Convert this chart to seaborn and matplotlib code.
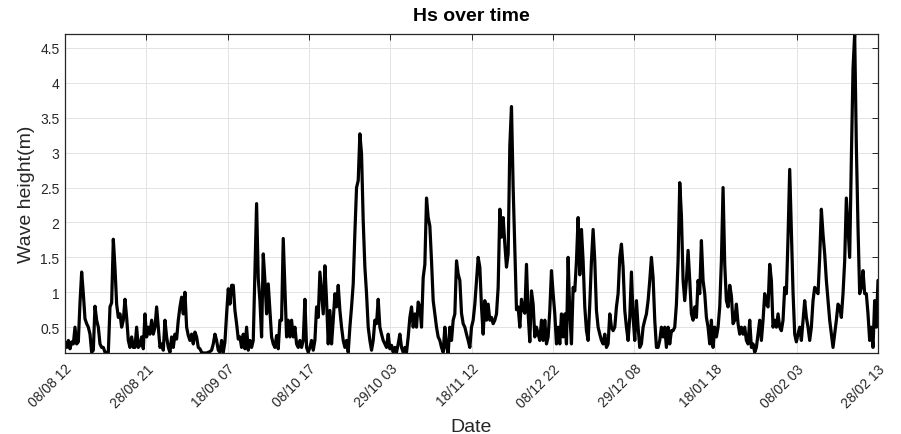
import numpy as np
import pandas as pd
import matplotlib
matplotlib.use("Agg")
import matplotlib.pyplot as plt
import matplotlib.dates as mdates
import seaborn as sns

# ---- data ----
start_time = "2021-08-08 12:00"
end_time = "2022-02-28 13:00"

hs_part1 = [0.29, 0.21, 0.31, 0.19, 0.29, 0.26, 0.50, 0.26, 0.29, 0.85, 1.29, 0.98,
            0.62, 0.55, 0.50, 0.40, 0.14, 0.17, 0.80, 0.60, 0.50, 0.26, 0.21, 0.21,
            0.14, 0.14, 0.14, 0.79, 0.85, 1.76, 1.35, 0.83, 0.64, 0.69, 0.50, 0.60,
            0.90, 0.64, 0.31, 0.21, 0.36, 0.21, 0.21, 0.50, 0.21, 0.24, 0.36, 0.19]
hs_part2 = [0.69, 0.36, 0.50, 0.40, 0.60, 0.40, 0.50, 0.79, 0.50, 0.21, 0.26, 0.17,
            0.60, 0.36, 0.21, 0.14, 0.36, 0.21, 0.40, 0.33, 0.60, 0.79, 0.93, 0.69,
            1.00, 0.50, 0.38, 0.31, 0.40, 0.26, 0.43, 0.36, 0.21, 0.19, 0.14, 0.13,
            0.13, 0.13, 0.14, 0.15, 0.17, 0.26, 0.40, 0.31, 0.17, 0.14, 0.31, 0.14,
            0.29, 0.69, 1.05, 0.83, 1.10, 1.10, 0.74, 0.55, 0.33]
hs_part3 = [0.36, 0.21, 0.40, 0.19, 0.50, 0.17, 0.31, 0.21, 0.31, 1.26, 2.27, 1.20,
            0.88, 0.36, 1.55, 1.17, 0.69, 1.12, 0.74, 0.36, 0.26, 0.21, 0.38, 0.19,
            0.60, 0.60, 1.77, 1.07, 0.36, 0.60, 0.36, 0.60, 0.36, 0.50, 0.26, 0.21,
            0.31, 0.21, 0.31, 0.90, 0.21, 0.14, 0.21, 0.31, 0.17, 0.31, 0.79, 0.64,
            1.29, 0.98, 0.69, 1.38, 0.88, 0.26, 0.74, 0.26, 0.60]
hs_part4 = [0.98, 0.79, 1.10, 0.74, 0.50, 0.31, 0.21, 0.31, 0.14, 0.50, 0.79, 1.12,
            1.85, 2.50, 2.60, 3.27, 2.98, 2.02, 1.36, 0.98, 0.50, 0.31, 0.17, 0.31,
            0.60, 0.55, 0.90, 0.50, 0.40, 0.31, 0.26, 0.21, 0.40, 0.19, 0.24, 0.14,
            0.21, 0.14, 0.26, 0.40, 0.21, 0.14, 0.21, 0.14, 0.36, 0.64, 0.79, 0.50,
            0.69, 0.50, 0.86, 0.79, 0.50, 1.21, 1.40, 2.35, 2.07]
hs_part5 = [1.95, 1.45, 0.88, 0.69, 0.50, 0.36, 0.31, 0.21, 0.14, 0.50, 0.21, 0.13,
            0.50, 0.31, 0.60, 0.69, 1.45, 1.26, 1.17, 0.70, 0.55, 0.50, 0.40, 0.31,
            0.21, 0.50, 0.60, 0.83, 1.17, 1.50, 1.36, 0.79, 0.40, 0.88, 0.60, 0.83,
            0.60, 0.64, 0.55, 0.60, 0.69, 1.07, 2.19, 1.79, 2.07, 1.69, 1.36, 1.55,
            3.10, 3.66, 2.50, 1.60, 0.75, 0.79, 0.50, 0.90, 0.75]
hs_part6 = [0.70, 1.40, 0.69, 0.29, 1.02, 0.83, 0.36, 0.50, 0.40, 0.31, 0.60, 0.31,
            0.60, 0.26, 0.36, 0.74, 1.31, 0.98, 0.69, 0.26, 0.50, 0.26, 0.69, 0.36,
            0.69, 0.26, 1.50, 0.69, 0.26, 1.07, 1.02, 1.45, 2.07, 1.25, 1.90, 1.45,
            0.79, 0.45, 0.31, 0.83, 1.45, 1.90, 1.45, 0.74, 0.50, 0.40, 0.31, 0.26,
            0.40, 0.21, 0.26, 0.69, 0.50, 0.45, 0.50, 0.79, 0.98]
hs_part7 = [1.50, 1.69, 1.36, 0.74, 0.50, 0.31, 0.64, 1.29, 0.64, 0.31, 0.88, 0.50,
            0.21, 0.26, 0.50, 0.60, 0.69, 0.88, 1.17, 1.50, 1.21, 0.60, 0.21, 0.21,
            0.31, 0.50, 0.36, 0.50, 0.21, 0.50, 0.26, 0.45, 0.45, 0.50, 0.83, 1.45,
            2.57, 2.10, 1.17, 0.88, 1.17, 1.60, 1.17, 0.69, 0.60, 0.79, 0.64, 1.17,
            0.98, 1.74, 1.17, 0.98, 0.64, 0.50, 0.26, 0.60, 0.21]
hs_part8 = [0.50, 0.36, 0.50, 0.79, 1.45, 2.50, 1.40, 0.88, 0.79, 1.10, 0.95, 0.55,
            0.60, 0.83, 0.55, 0.40, 0.50, 0.40, 0.50, 0.31, 0.26, 0.60, 0.21, 0.26,
            0.14, 0.21, 0.40, 0.60, 0.31, 0.60, 0.98, 0.83, 0.79, 1.40, 1.17, 0.50,
            0.60, 0.50, 0.69, 0.50, 0.45, 0.60, 1.07, 0.98, 1.79, 2.76, 1.90, 1.00,
            0.40, 0.29, 0.40]
hs_part9 = [0.50, 0.31, 0.60, 0.88, 0.64, 0.50, 0.31, 0.50, 0.88, 1.07, 1.02, 0.98,
            1.50, 2.19, 1.83, 1.55, 1.17, 0.88, 0.60, 0.40, 0.21, 0.40, 0.60, 0.83,
            0.79, 0.64, 0.98, 1.45, 2.35, 1.93, 1.50, 2.90, 4.20, 4.70, 3.10, 1.93,
            0.98, 1.07, 1.31, 0.98, 0.98, 0.69, 0.31, 0.50, 0.21, 0.88, 0.50, 1.17]

hs_values = (hs_part1 + hs_part2 + hs_part3 + hs_part4 + hs_part5 +
             hs_part6 + hs_part7 + hs_part8 + hs_part9)

tick_labels = ["08/08 12", "28/08 21", "18/09 07", "08/10 17", "29/10 03",
               "18/11 12", "08/12 22", "29/12 08", "18/01 18", "08/02 03", "28/02 13"]
y_ticks = [0.5, 1, 1.5, 2, 2.5, 3, 3.5, 4, 4.5]
y_tick_labels = ["0.5", "1", "1.5", "2", "2.5", "3", "3.5", "4", "4.5"]

times = pd.date_range(start=start_time, end=end_time, periods=len(hs_values))
df = pd.DataFrame({"Date": times, "Hs": hs_values})

# ---- plot ----
sns.set_style("white")
plt.rcParams["font.family"] = ["Liberation Sans", "DejaVu Sans"]

fig = plt.figure(figsize=(9.01, 4.35), dpi=100)
ax = fig.add_axes([65 / 901, 1 - 354 / 435, (878 - 65) / 901, (354 - 35) / 435])

sns.lineplot(data=df, x="Date", y="Hs", ax=ax, color="black", linewidth=2.3)

t0 = mdates.date2num(pd.Timestamp(start_time))
t1 = mdates.date2num(pd.Timestamp(end_time))
ax.set_xlim(t0, t1)
ax.set_ylim(min(hs_values), max(hs_values))

ax.set_xticks(np.linspace(t0, t1, len(tick_labels)))
ax.set_xticklabels(tick_labels, rotation=45, ha="right", rotation_mode="anchor")
ax.set_yticks(y_ticks)
ax.set_yticklabels(y_tick_labels)

ax.grid(True, color="#e3e3e3", linewidth=0.7)
ax.set_axisbelow(True)
for s in ax.spines.values():
    s.set_color("#262626")
    s.set_linewidth(0.9)
ax.tick_params(axis="both", direction="in", length=4, width=0.7,
               top=True, right=True, labelsize=10, colors="#262626", pad=4)
ax.tick_params(axis="x", pad=6)

ax.set_xlabel("Date", fontsize=14, color="#262626", labelpad=6)
ax.set_ylabel("Wave height(m)", fontsize=14, color="#262626", labelpad=4)
ax.set_title("Hs over time", fontsize=14, fontweight="bold", color="black", pad=10,
             family=["Liberation Sans Narrow", "Liberation Sans", "DejaVu Sans"])

fig.savefig("out.png", dpi=100)
